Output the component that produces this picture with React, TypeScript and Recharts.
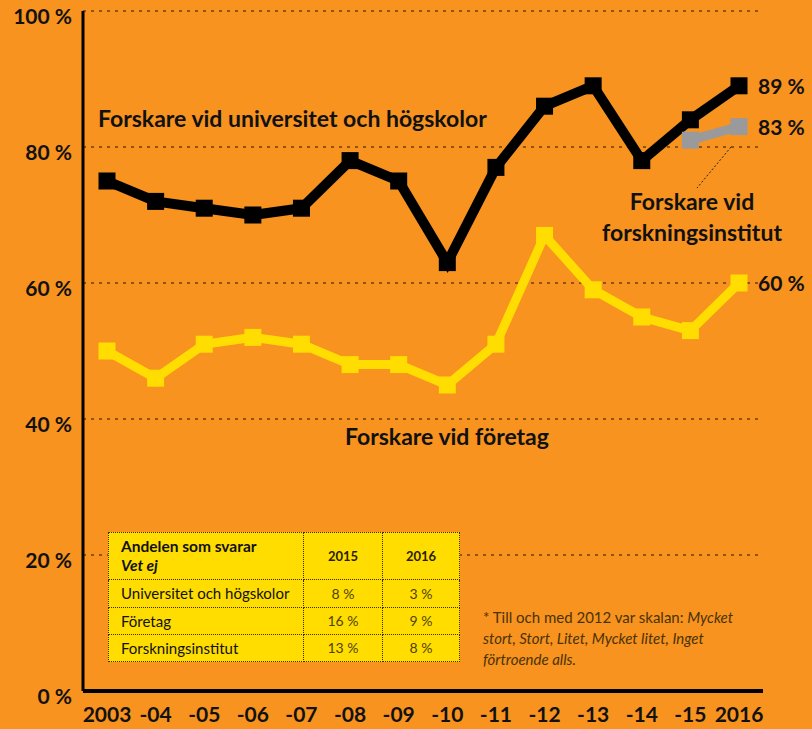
import React from 'react';
import { LineChart, Line, XAxis, YAxis, CartesianGrid } from 'recharts';

const years = ['2003', '-04', '-05', '-06', '-07', '-08', '-09', '-10', '-11', '-12', '-13', '-14', '-15', '2016'];
const universitet = [75, 72, 71, 70, 71, 78, 75, 63, 77, 86, 89, 78, 84, 89];
const foretag = [50, 46, 51, 52, 51, 48, 48, 45, 51, 67, 59, 55, 53, 60];
const institut: (number | null)[] = [null, null, null, null, null, null, null, null, null, null, null, null, 81, 83];
const yTicks = [0, 20, 40, 60, 80, 100];

const tableTitle = ['Andelen som svarar', 'Vet ej'];
const tableYears = ['2015', '2016'];
const tableRows = [
  ['Universitet och högskolor', '8 %', '3 %'],
  ['Företag', '16 %', '9 %'],
  ['Forskningsinstitut', '13 %', '8 %'],
];

const ORANGE = '#F7931E';
const YELLOW = '#FFDD00';
const GRAY = '#9A9A9C';
const FONT = 'Lato, "Open Sans", sans-serif';

const data = years.map((y, i) => ({
  year: y,
  uni: universitet[i],
  fore: foretag[i],
  inst: institut[i],
}));

const squareDot = (color: string, size: number) => (props: any) => {
  const { cx, cy, index, value } = props;
  if (cx == null || cy == null || value == null) return <g key={`d-${index}`} />;
  return <rect key={`d-${index}`} x={cx - size / 2} y={cy - size / 2} width={size} height={size} fill={color} />;
};

const endLabel = (count: number) => (props: any) => {
  const { x, y, index, value } = props;
  if (index !== count - 1 || value == null) return <g key={`l-${index}`} />;
  return (
    <text key={`l-${index}`} x={x + 19} y={y + 8} fontFamily={FONT} fontWeight={700} fontSize={21} fill="#111">
      {value} %
    </text>
  );
};

const YTick = (props: any) => {
  const { y, payload } = props;
  return (
    <text x={72} y={y + 13} textAnchor="end" fontFamily={FONT} fontWeight={700} fontSize={21} fill="#111">
      {payload.value} %
    </text>
  );
};

const XTick = (props: any) => {
  const { x, y, payload } = props;
  return (
    <text x={x} y={y + 23} textAnchor="middle" fontFamily={FONT} fontWeight={700} fontSize={21} fill="#111">
      {payload.value}
    </text>
  );
};

const cellBorder = '1.5px dotted #3a2a00';
const labelStyle: React.CSSProperties = {
  position: 'absolute',
  fontFamily: FONT,
  fontWeight: 700,
  fontSize: 23,
  color: '#111',
  whiteSpace: 'nowrap',
  lineHeight: '28px',
};

export default function App() {
  return (
    <div style={{ position: 'absolute', left: 0, top: 0, width: 812, height: 729, background: ORANGE, overflow: 'hidden' }}>
      <LineChart width={812} height={729} data={data} margin={{ top: 11, right: 49, bottom: 0, left: 0 }}>
        <CartesianGrid horizontal vertical={false} stroke="#6b3f0c" strokeDasharray="3 5" strokeWidth={1.5} />
        <XAxis
          dataKey="year"
          height={38}
          padding={{ left: 24, right: 24 }}
          axisLine={{ stroke: '#000', strokeWidth: 4 }}
          tickLine={false}
          tick={<XTick />}
          interval={0}
        />
        <YAxis
          domain={[0, 100]}
          ticks={yTicks}
          width={83}
          axisLine={{ stroke: '#000', strokeWidth: 3 }}
          tickLine={false}
          tick={<YTick />}
          interval={0}
        />
        <Line
          dataKey="fore"
          stroke={YELLOW}
          strokeWidth={9}
          strokeLinejoin="miter"
          dot={squareDot(YELLOW, 17)}
          activeDot={false}
          label={endLabel(years.length)}
          isAnimationActive={false}
        />
        <Line
          dataKey="inst"
          stroke={GRAY}
          strokeWidth={9}
          strokeLinejoin="miter"
          dot={squareDot(GRAY, 17)}
          activeDot={false}
          label={endLabel(years.length)}
          isAnimationActive={false}
        />
        <Line
          dataKey="uni"
          stroke="#000"
          strokeWidth={10}
          strokeLinejoin="miter"
          dot={squareDot('#000', 17)}
          activeDot={false}
          label={endLabel(years.length)}
          isAnimationActive={false}
        />
      </LineChart>

      <svg style={{ position: 'absolute', left: 0, top: 0 }} width={812} height={729}>
        <line x1={731} y1={147} x2={697} y2={188} stroke="#222" strokeWidth={1} strokeDasharray="2 2" />
      </svg>

      <div style={{ ...labelStyle, left: 98, top: 104 }}>Forskare vid universitet och högskolor</div>
      <div style={{ ...labelStyle, left: 345, top: 422 }}>Forskare vid företag</div>
      <div style={{ ...labelStyle, left: 592, width: 200, top: 186, textAlign: 'center', lineHeight: '31px', whiteSpace: 'normal' }}>
        Forskare vid
        <br />
        forskningsinstitut
      </div>

      <table
        style={{
          position: 'absolute',
          left: 108,
          top: 532,
          width: 352,
          height: 130,
          borderCollapse: 'collapse',
          background: YELLOW,
          fontFamily: FONT,
          color: '#111',
        }}
      >
        <tbody>
          <tr style={{ height: 47 }}>
            <td style={{ border: cellBorder, padding: '0 0 0 12px', width: 182, fontWeight: 700, fontSize: 15.5, lineHeight: '19px' }}>
              {tableTitle[0]}
              <br />
              <i>{tableTitle[1]}</i>
            </td>
            {tableYears.map((t) => (
              <td key={t} style={{ border: cellBorder, textAlign: 'center', fontWeight: 700, fontSize: 13, color: '#2a2000' }}>
                {t}
              </td>
            ))}
          </tr>
          {tableRows.map((r) => (
            <tr key={r[0]} style={{ height: 27 }}>
              <td style={{ border: cellBorder, padding: '0 0 0 12px', fontSize: 15 }}>{r[0]}</td>
              <td style={{ border: cellBorder, textAlign: 'center', fontSize: 14, color: '#4d4208' }}>{r[1]}</td>
              <td style={{ border: cellBorder, textAlign: 'center', fontSize: 14, color: '#4d4208' }}>{r[2]}</td>
            </tr>
          ))}
        </tbody>
      </table>

      <div style={{ position: 'absolute', left: 483, top: 607, width: 300, fontFamily: FONT, fontSize: 15, color: '#4a3208', lineHeight: '21px', whiteSpace: 'nowrap' }}>
        <div>* Till och med 2012 var skalan: <i>Mycket</i></div>
        <div><i>stort, Stort, Litet, Mycket litet, Inget</i></div>
        <div><i>förtroende alls.</i></div>
      </div>
    </div>
  );
}
